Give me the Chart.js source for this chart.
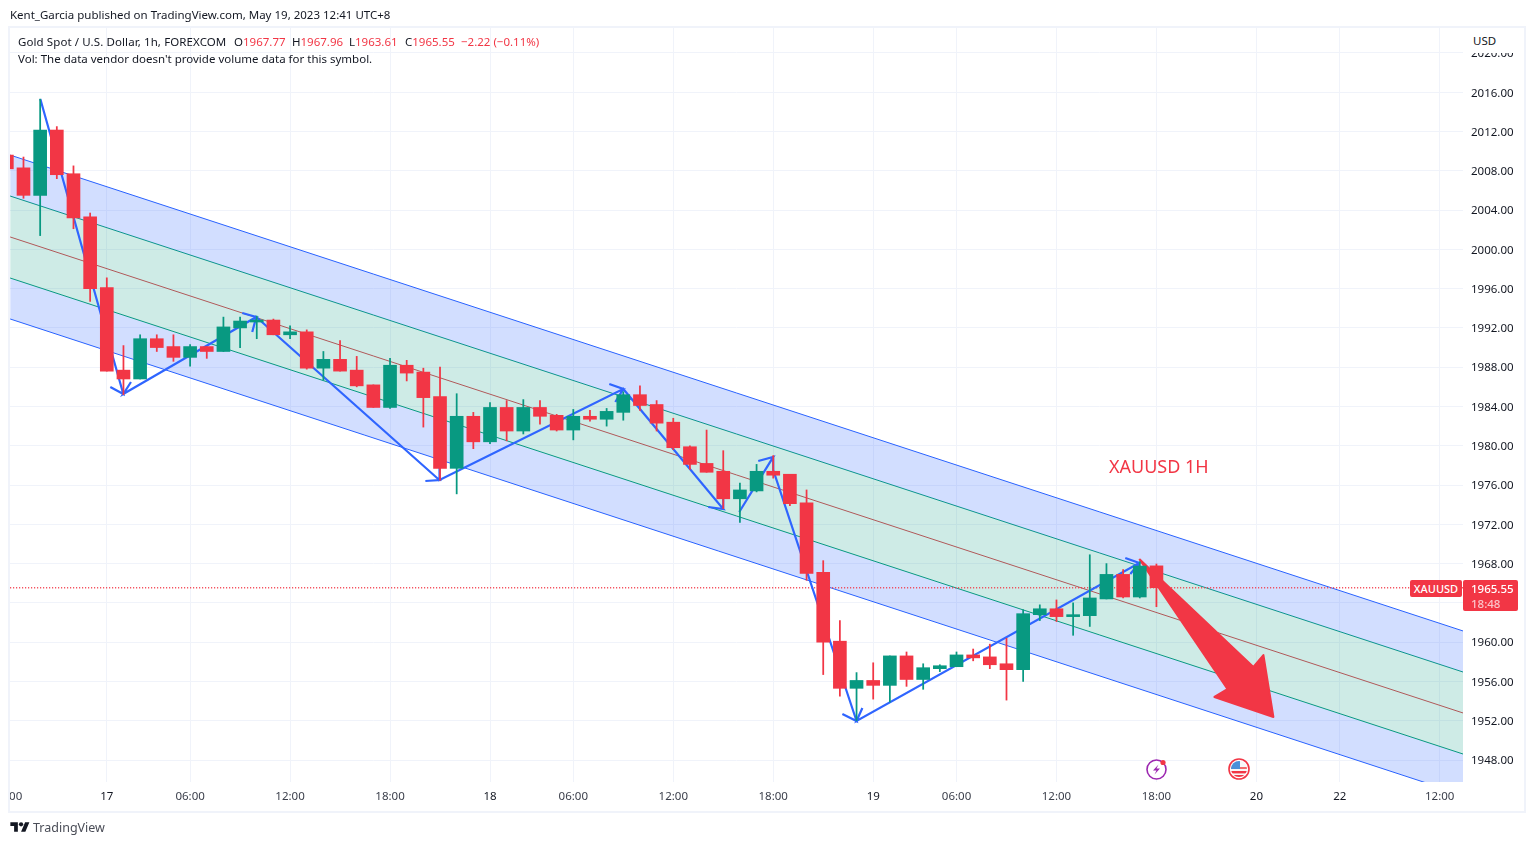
<!DOCTYPE html>
<html><head><meta charset="utf-8"><title>XAUUSD 1H</title>
<script src="https://cdn.jsdelivr.net/npm/chart.js@4"></script>
<style>
html,body{margin:0;padding:0;background:#fff;width:1533px;height:845px;overflow:hidden;font-family:"Noto Sans",sans-serif;}
canvas{position:absolute;left:0;top:0;}
.t{position:absolute;white-space:pre;font-size:11.5px;line-height:16px;color:#131722;z-index:5;}
.r{color:#f23645;}
#frame{position:absolute;left:8px;top:26px;width:1514px;height:783px;border:2px solid #f0f3fa;z-index:4;pointer-events:none;}
#usdbox{position:absolute;left:1464px;top:29px;width:56px;height:24px;background:#fff;z-index:4;}
.tag{position:absolute;background:#f23645;color:#fff;z-index:5;border-radius:2px;font-size:11.5px;font-weight:500;}
svg{position:absolute;z-index:5;}
</style></head><body>
<canvas id="c" width="1533" height="845"></canvas>
<div id="frame"></div><div id="usdbox"></div>
<div class="t" style="left:10px;top:7px">Kent_Garcia published on TradingView.com, May 19, 2023 12:41 UTC+8</div>
<div class="t" style="left:18px;top:34px;letter-spacing:0.1px">Gold Spot / U.S. Dollar, 1h, FOREXCOM</div>
<div class="t" style="left:234px;top:34px">O<span class="r">1967.77</span></div>
<div class="t" style="left:292px;top:34px">H<span class="r">1967.96</span></div>
<div class="t" style="left:349px;top:34px">L<span class="r">1963.61</span></div>
<div class="t" style="left:405px;top:34px">C<span class="r">1965.55</span></div>
<div class="t r" style="left:461px;top:34px">−2.22 (−0.11%)</div>
<div class="t" style="left:18px;top:51px">Vol: The data vendor doesn't provide volume data for this symbol.</div>
<div class="t" style="left:1473px;top:33px">USD</div>
<div class="t r" style="left:1109px;top:454px;font-size:18px;line-height:24px">XAUUSD 1H</div>
<div class="tag" style="left:1410px;top:580px;width:52px;height:17px;line-height:17px;text-align:center;font-size:11px">XAUUSD</div>
<div class="tag" style="left:1463px;top:580px;width:55px;height:31px;line-height:15px"><div style="padding:1px 0 0 8px">1965.55</div><div style="padding-left:8px;color:#fbc4c9">18:48</div></div>
<svg style="left:1145px;top:757px" width="24" height="24" viewBox="0 0 24 24"><circle cx="11.5" cy="12.5" r="9.5" fill="#fff" stroke="#9c27b0" stroke-width="1.6"/><path d="M13.5 7.5 L8 13.5 H11.5 L9.5 17.5 L15 11.5 H11.5 Z" fill="#9c27b0"/><circle cx="18" cy="5.5" r="2.6" fill="#f23645"/></svg>
<svg style="left:1227px;top:757px" width="24" height="24" viewBox="0 0 24 24"><circle cx="12" cy="12" r="10" fill="#fff" stroke="#f23645" stroke-width="1.6"/><clipPath id="fl"><circle cx="12" cy="12" r="8"/></clipPath><g clip-path="url(#fl)"><rect x="4" y="4" width="16" height="16" fill="#f8f8f8"/><rect x="4" y="10" width="16" height="2" fill="#f26d6d"/><rect x="4" y="14" width="16" height="2.4" fill="#f23645"/><rect x="4" y="18" width="16" height="2" fill="#f23645"/><rect x="4" y="4" width="9" height="8" fill="#4a90d9"/></g></svg>
<svg style="left:10px;top:820px" width="20" height="15" viewBox="0 0 36 28"><path fill="#131722" d="M14 22H7V11H0V4h14v18zM28 22h-8l7.5-18h8L28 22z"/><circle fill="#131722" cx="20" cy="8" r="4"/></svg>
<div class="t" style="left:33px;top:820px;color:#4a4d57;font-size:12.5px">TradingView</div>
<script>
const opens=[2009.6,2008.3,2005.5,2012.15,2007.7,2003.3,1996.1,1987.7,1986.8,1990.9,1990.1,1989.0,1990.1,1989.6,1992.0,1992.6,1992.8,1991.3,1991.6,1987.9,1988.8,1987.7,1986.2,1983.9,1988.2,1987.5,1985.0,1977.7,1983.0,1980.4,1983.9,1981.5,1983.9,1983.1,1981.6,1983.0,1982.7,1983.4,1985.2,1984.2,1982.4,1979.9,1978.2,1977.4,1974.6,1975.4,1977.4,1977.1,1974.2,1967.1,1960.1,1955.3,1956.1,1955.6,1958.6,1956.2,1957.3,1957.5,1958.7,1958.5,1957.8,1957.2,1962.8,1963.4,1962.6,1962.7,1964.4,1966.9,1964.6,1967.77];
const closes=[2008.2,2005.5,2012.15,2007.6,2003.2,1996.0,1987.6,1986.8,1990.9,1990.0,1989.0,1990.1,1989.6,1992.1,1992.7,1992.8,1991.3,1991.6,1987.9,1988.8,1987.6,1986.1,1983.9,1988.2,1987.4,1984.9,1977.7,1983.0,1980.4,1983.9,1981.5,1983.9,1983.0,1981.6,1983.0,1982.7,1983.5,1985.2,1984.1,1982.3,1979.8,1978.1,1977.3,1974.6,1975.5,1977.4,1977.0,1974.1,1967.0,1960.0,1955.3,1956.1,1955.6,1958.6,1956.2,1957.4,1957.6,1958.7,1958.4,1957.7,1957.2,1962.9,1963.4,1962.6,1962.8,1964.5,1966.9,1964.6,1967.75,1965.55];
const highs=[2009.6,2009.4,2015.3,2012.5,2008.5,2003.7,1997.1,1990.2,1991.3,1991.3,1991.3,1990.3,1990.1,1993.1,1993.1,1993.2,1992.9,1992.2,1991.8,1989.6,1990.7,1989.1,1986.2,1988.9,1988.7,1987.9,1988.0,1985.3,1983.4,1984.4,1984.6,1984.7,1984.6,1983.2,1983.7,1983.6,1983.8,1985.5,1986.1,1984.6,1982.8,1980.0,1981.6,1979.5,1976.2,1978.1,1979.0,1977.1,1975.5,1968.3,1962.2,1956.9,1957.9,1958.6,1959.0,1957.8,1957.7,1959.0,1959.3,1959.8,1960.4,1963.3,1963.8,1964.3,1964.0,1968.9,1968.0,1967.4,1968.2,1967.96];
const lows=[2008.2,2005.2,2001.4,2007.2,2002.1,1994.7,1987.6,1985.2,1986.8,1989.6,1988.6,1988.1,1988.9,1989.6,1990.0,1990.9,1991.3,1990.9,1987.8,1986.7,1987.6,1986.0,1983.9,1983.8,1986.6,1981.9,1976.5,1975.1,1979.7,1980.2,1980.5,1981.2,1982.2,1981.5,1980.6,1982.5,1982.0,1982.6,1983.6,1981.5,1979.6,1977.6,1977.3,1973.6,1972.2,1975.3,1976.7,1973.9,1966.3,1956.7,1954.5,1952.0,1954.2,1953.9,1955.5,1955.2,1957.0,1957.5,1958.1,1957.3,1954.1,1956.0,1962.2,1962.1,1960.7,1961.6,1964.4,1964.5,1964.5,1963.61];

const tickIndex=[0.53,6,11,17,23,29,34,40,46,52,57,63,69,75,80,86];
const tickText=["00","17","06:00","12:00","18:00","18","06:00","12:00","18:00","19","06:00","12:00","18:00","20","22","12:00"];
const dayTicks=["17","18","19","20","22"];

const channelIdx=[0.2,87.4];
const channelTop=[2009.6,1961.14];
const channelUpper=[2005.43,1956.96];
const channelMid=[2001.26,1952.79];
const channelLower=[1997.08,1948.61];
const channelBottom=[1992.91,1944.44];

const zigIdx=[2.01,6.99,6.21,6.99,7.45,6.99,14.97,14.13,14.97,14.73,14.97,25.96,25.12,25.96,25.98,25.96,37.0,36.16,37.0,36.52,37.0,43.0,42.1,43.0,43.0];
const zigPrice=[2015.31,1985.27,1985.98,1985.27,1986.49,1985.27,1993.11,1993.52,1993.11,1991.58,1993.11,1976.51,1976.41,1976.51,1977.84,1976.51,1985.78,1986.29,1985.78,1984.46,1985.78,1973.56,1973.76,1973.56,1974.78];
const zig2Idx=[43.96,46.0,45.1,46.0,46.0,51.0,50.15,51.0,51.35,51.0,67.97,67.13,67.97,67.43];
const zig2Price=[1973.25,1978.86,1978.45,1978.86,1977.53,1951.97,1952.68,1951.97,1953.3,1951.97,1968.06,1968.57,1968.06,1966.94];

const bigArrowIdx=[67.97,74.82,75.42,76.02,72.48,73.26,67.97];
const bigArrowPrice=[1968.47,1957.47,1958.69,1952.38,1954.42,1955.23,1968.47];

const lastPrice=1965.55;
const upColor="#089981", downColor="#f23645";
const pts=(xs,ys)=>xs.map((x,i)=>({x,y:ys[i]}));
const candleColors=opens.map((o,i)=>closes[i]>=o?upColor:downColor);
const lineDs=(data,color,extra)=>Object.assign({type:"scatter",showLine:true,data,borderColor:color,borderWidth:1,pointRadius:0,fill:false,order:10,tension:0},extra||{});

new Chart(document.getElementById("c"),{
  type:"bar",
  data:{datasets:[
    lineDs(pts(channelIdx,channelTop),"#2962ff",{fill:{target:1},backgroundColor:"rgba(41,98,255,0.21)"}),
    lineDs(pts(channelIdx,channelUpper),"#089981",{fill:{target:3},backgroundColor:"rgba(8,153,129,0.2)"}),
    lineDs(pts(channelIdx,channelMid),"#d9484f",{}),
    lineDs(pts(channelIdx,channelLower),"#089981",{fill:{target:4},backgroundColor:"rgba(41,98,255,0.21)"}),
    lineDs(pts(channelIdx,channelBottom),"#2962ff",{}),
    lineDs([{x:channelIdx[0],y:lastPrice},{x:channelIdx[1],y:lastPrice}],"#f23645",{borderDash:[1,2],borderWidth:1.5,order:9}),
    lineDs(pts(zigIdx,zigPrice),"#2f65ff",{borderWidth:2.2,order:8}),
    lineDs(pts(zig2Idx,zig2Price),"#2f65ff",{borderWidth:2.2,order:8}),
    lineDs(pts(bigArrowIdx,bigArrowPrice),"#f23645",{borderWidth:2,fill:"shape",backgroundColor:"#f23645",borderJoinStyle:"round",order:7}),
    {type:"bar",label:"wicks",data:highs.map((h,i)=>({x:i,y:[lows[i],h]})),backgroundColor:candleColors,barThickness:1.1,grouped:false,order:2},
    {type:"bar",label:"bodies",data:opens.map((o,i)=>({x:i,y:[o,closes[i]]})),backgroundColor:candleColors,barThickness:13,grouped:false,order:1}
  ]},
  options:{
    responsive:false,animation:false,
    devicePixelRatio:1,
    events:[],
    layout:{padding:{left:10,right:0,top:28,bottom:0}},
    plugins:{legend:{display:false},tooltip:{enabled:false},filler:{propagate:false}},
    scales:{
      x:{type:"linear",min:0.19,max:87.4,offset:false,
        grid:{offset:false,color:c=>(c.tick&&c.tick.value===tickIndex[0])?"rgba(0,0,0,0)":"#f0f3fa",drawTicks:false},
        border:{display:false},
        afterBuildTicks:a=>{a.ticks=tickIndex.map(value=>({value}));},
        afterFit:a=>{a.height=63;},
        ticks:{autoSkip:false,maxRotation:0,minRotation:0,padding:8,
          color:c=>dayTicks.includes(tickText[c.index])?"#131722":"#3a3e4a",
          font:{family:'"Noto Sans"',size:11.5},
          callback:(v,i)=>tickText[i]}},
      y:{type:"linear",position:"right",min:1945.76,max:2022.54,
        grid:{color:"#f0f3fa",drawTicks:false},border:{display:false},
        afterFit:a=>{a.width=70;},
        ticks:{stepSize:4,includeBounds:false,padding:8,labelOffset:1,color:"#131722",font:{family:'"Noto Sans"',size:11.5},callback:v=>v.toFixed(2)}}
    }
  }
});
</script>
</body></html>
